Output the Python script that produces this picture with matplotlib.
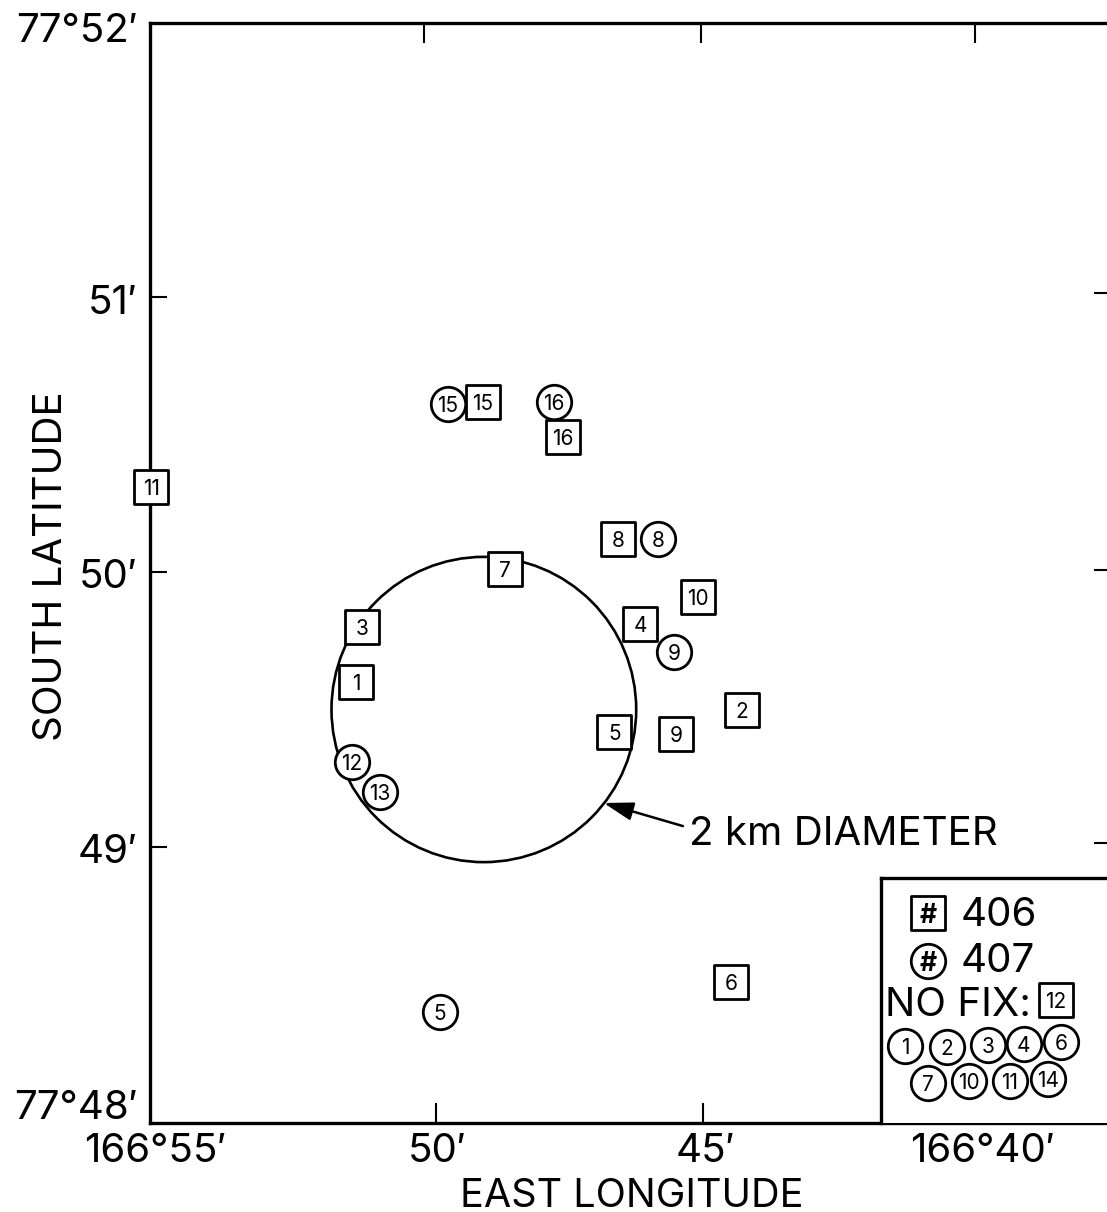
import matplotlib
matplotlib.use("Agg")
import matplotlib.pyplot as plt
from matplotlib.patches import Ellipse

plt.rcParams['font.family'] = ['Inter', 'Liberation Sans', 'DejaVu Sans']

W, H = 1107, 1212

# Fix positions: longitude minutes past 166 deg E, latitude minutes past 77 deg S
sq_labels = ['1', '2', '3', '4', '5', '6', '7', '8', '9', '10', '11', '15', '16']
sq_lon = [51.25, 44.24, 51.15, 46.09, 46.56, 44.44, 48.55, 46.49, 45.44, 45.04, 54.98, 48.95, 47.49]
sq_lat = [49.60, 49.50, 49.80, 49.81, 49.42, 48.51, 50.01, 50.12, 49.41, 49.91, 50.31, 50.62, 50.49]

ci_labels = ['5', '8', '9', '12', '13', '15', '16']
ci_lon = [49.73, 45.76, 45.47, 51.33, 50.82, 49.58, 47.65]
ci_lat = [48.40, 50.12, 49.71, 49.31, 49.20, 50.61, 50.62]

circle_lon, circle_lat = 48.93, 49.50
circle_w_lon, circle_h_lat = 5.54, 1.11

arrow_tip = (46.75, 49.16)
arrow_tail = (45.31, 49.076)

no_fix_square = ['12']
no_fix_row1 = ['1', '2', '3', '4', '6']
no_fix_row2 = ['7', '10', '11', '14']

xlabel_pos = [54.91, 49.78, 44.91, 39.87]
xlabel_txt = ["166°55′", "50′", "45′", "166°40′"]
ylabel_pos = [51.98, 50.99, 49.996, 48.996, 48.065]
ylabel_txt = ["77°52′", "51′", "50′", "49′", "77°48′"]

bottom_ticks = [49.80, 44.95]
top_ticks = [50.02, 44.98, 40.0]
left_ticks = [51.0, 50.0, 49.0]
right_ticks = [51.015, 50.007, 49.015]

S = 615
LW = 2.0
NUM = 15
BIG = 29

fig = plt.figure(figsize=(W / 100, H / 100), dpi=100, facecolor='white')
L, R, T, B = 150, 1107, 23, 1123
ax = fig.add_axes([L / W, 1 - B / H, (R - L) / W, (B - T) / H])
ax.set_xlim(55, 55 - (R - L) / 55)
ax.set_ylim(48 - 1 / 275, 48 + (B - T - 1) / 275)
ax.set_facecolor('none')

for s in ['left', 'top', 'bottom']:
    ax.spines[s].set_linewidth(2.4)
ax.spines['right'].set_visible(False)

ax.set_xticks(xlabel_pos, xlabel_txt, fontsize=BIG)
ax.set_yticks(ylabel_pos, ylabel_txt, fontsize=BIG)
ax.tick_params(axis='x', which='major', length=0, pad=7)
ax.tick_params(axis='y', which='major', length=0, pad=9)
ax.set_xlabel("EAST LONGITUDE", fontsize=BIG - 0.5)
ax.xaxis.set_label_coords(0.503, -0.050)
ax.set_ylabel("SOUTH LATITUDE", fontsize=BIG)
ax.yaxis.set_label_coords(-0.0835, 0.506)

ax.set_xticks(bottom_ticks, minor=True)
ax.set_yticks(left_ticks, minor=True)
ax.tick_params(axis='x', which='minor', direction='in', length=14.5, width=1.5)
ax.tick_params(axis='y', which='minor', direction='in', length=12, width=1.5)

top = ax.secondary_xaxis('top')
top.set_xticks(top_ticks, [''] * len(top_ticks))
top.tick_params(direction='in', length=14.5, width=1.5)
top.spines['top'].set_visible(False)

right = ax.secondary_yaxis('right')
right.set_yticks(right_ticks, [''] * len(right_ticks))
right.tick_params(direction='in', length=9.5, width=1.5)
right.spines['right'].set_visible(False)

ax.add_patch(Ellipse((circle_lon, circle_lat), circle_w_lon, circle_h_lat,
                     fc='none', ec='black', lw=1.9, zorder=2))

ax.text(45.2, 49.06, "2 km DIAMETER", fontsize=BIG, va='center_baseline', ha='left', zorder=5)
ax.annotate("", xy=arrow_tip, xytext=arrow_tail, xycoords='data', textcoords='data', zorder=5,
            arrowprops=dict(arrowstyle='-|>,head_width=0.28,head_length=0.9', mutation_scale=20,
                            color='black', lw=1.8, shrinkA=0, shrinkB=0))


def marks(a, xs, ys, labels, marker, size=S, font=NUM, weight='normal'):
    a.scatter(xs, ys, s=size, marker=marker, facecolor='white', edgecolor='black',
              linewidth=LW, zorder=3, clip_on=False)
    for x, y, t in zip(xs, ys, labels):
        a.text(x, y, t, ha='center', va='center_baseline', fontsize=font, zorder=4, fontweight=weight)


marks(ax, sq_lon, sq_lat, sq_labels, 's')
marks(ax, ci_lon, ci_lat, ci_labels, 'o')

# Legend panel, laid out in image pixels
lg = fig.add_axes([881 / W, 1 - 1123 / H, (W - 881) / W, (1123 - 878) / H])
lg.set_xlim(881, W)
lg.set_ylim(1123, 878)
lg.set_xticks([])
lg.set_yticks([])
lg.patch.set_facecolor('white')
for s in ['left', 'top']:
    lg.spines[s].set_linewidth(2.4)
lg.spines['right'].set_visible(False)
lg.spines['bottom'].set_visible(False)

marks(lg, [928], [913], ['#'], 's', font=19, weight='bold')
marks(lg, [928], [961], ['#'], 'o', font=19, weight='bold')
lg.text(961, 912, "406", fontsize=BIG, va='center_baseline', ha='left')
lg.text(961, 957, "407", fontsize=BIG, va='center_baseline', ha='left')
lg.text(885, 1001, "NO FIX:", fontsize=BIG, va='center_baseline', ha='left')
marks(lg, [1056], [1000], no_fix_square, 's')
marks(lg, [905, 947, 988, 1024, 1061], [1046, 1047, 1045, 1044, 1042], no_fix_row1, 'o')
marks(lg, [928, 969, 1010, 1048], [1083, 1081, 1081, 1079], no_fix_row2, 'o')

fig.savefig('out.png', dpi=100, facecolor='white')
